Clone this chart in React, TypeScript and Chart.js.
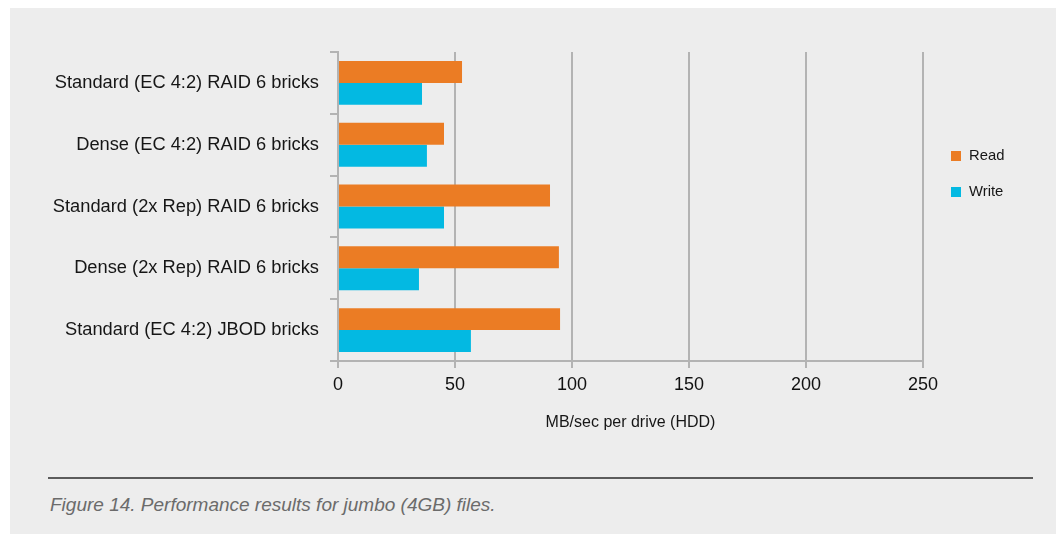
import React, { useEffect, useRef } from "react";
import { Chart, registerables } from "chart.js";

Chart.register(...registerables);

// Brick layouts compared in the test
const categories = [
  "Standard (EC 4:2) RAID 6 bricks",
  "Dense (EC 4:2) RAID 6 bricks",
  "Standard (2x Rep) RAID 6 bricks",
  "Dense (2x Rep) RAID 6 bricks",
  "Standard (EC 4:2) JBOD bricks",
];

// MB/sec per drive
const readValues = [53, 45.3, 90.6, 94.4, 94.9];
const writeValues = [35.9, 38, 45.3, 34.6, 56.8];

const seriesNames = ["Read", "Write"];
const seriesColors = ["#EB7C24", "#03B9E2"];

const xTickValues = [0, 50, 100, 150, 200, 250];
const xAxisTitle = "MB/sec per drive (HDD)";
const caption = "Figure 14. Performance results for jumbo (4GB) files.";

const FONT = '"Liberation Sans", Arial, sans-serif';
const GRID = "#b3b3b3";

// Small square-swatch legend to the right of the plot
const sideLegend = {
  id: "sideLegend",
  afterDraw(chart: any) {
    const { ctx, chartArea } = chart;
    const x = chartArea.right + 28;
    ctx.save();
    chart.data.datasets.forEach((ds: any, i: number) => {
      const cy = chartArea.top + 104 + i * 36;
      ctx.fillStyle = ds.backgroundColor;
      ctx.fillRect(x, cy - 5, 10, 10);
      ctx.fillStyle = "#161616";
      ctx.font = `14.8px ${FONT}`;
      ctx.textBaseline = "middle";
      ctx.textAlign = "left";
      ctx.fillText(ds.label, x + 18, cy);
    });
    ctx.restore();
  },
};

export default function App() {
  const canvasRef = useRef<HTMLCanvasElement | null>(null);

  useEffect(() => {
    if (!canvasRef.current) return;
    const chart = new Chart(canvasRef.current, {
      type: "bar",
      data: {
        labels: categories,
        datasets: [
          {
            label: seriesNames[0],
            data: readValues,
            backgroundColor: seriesColors[0],
            barPercentage: 1,
            categoryPercentage: 0.71,
          },
          {
            label: seriesNames[1],
            data: writeValues,
            backgroundColor: seriesColors[1],
            barPercentage: 1,
            categoryPercentage: 0.71,
          },
        ],
      },
      options: {
        indexAxis: "y",
        responsive: false,
        animation: false,
        devicePixelRatio: 1,
        layout: { padding: { left: 12, right: 136, top: 52, bottom: 73 } },
        plugins: {
          legend: { display: false },
          tooltip: { enabled: false },
        },
        scales: {
          x: {
            type: "linear",
            position: "bottom",
            min: 0,
            max: 250,
            afterBuildTicks: (scale: any) => {
              scale.ticks = xTickValues.map((v) => ({ value: v }));
            },
            afterFit: (scale: any) => {
              scale.height = 100;
            },
            ticks: {
              color: "#111",
              font: { family: FONT, size: 18 },
              padding: 6,
            },
            grid: {
              color: GRID,
              lineWidth: 2,
              tickLength: 7,
              drawOnChartArea: true,
            },
            border: { display: true, color: GRID, width: 2 },
            title: {
              display: true,
              text: xAxisTitle,
              color: "#161616",
              font: { family: FONT, size: 16 },
              padding: { top: 0, bottom: 29 },
            },
          },
          y: {
            type: "category",
            position: "left",
            offset: true,
            z: 1,
            afterFit: (scale: any) => {
              scale.width = 326;
            },
            ticks: {
              color: "#161616",
              font: { family: FONT, size: 18.3 },
              padding: 11,
            },
            grid: {
              offset: true,
              drawOnChartArea: false,
              drawTicks: true,
              tickLength: 8,
              color: GRID,
              lineWidth: 2,
            },
            border: { display: true, color: GRID, width: 2 },
          },
        },
      },
      plugins: [sideLegend],
    });
    return () => chart.destroy();
  }, []);

  return (
    <div
      style={{
        position: "fixed",
        left: 0,
        top: 0,
        width: 1059,
        height: 534,
        background: "#ffffff",
        overflow: "hidden",
      }}
    >
      <div
        style={{
          position: "absolute",
          left: 10,
          top: 8,
          width: 1046,
          height: 526,
          background: "#ededed",
        }}
      />
      <div
        style={{
          position: "absolute",
          left: 48,
          top: 477,
          width: 985,
          height: 2,
          background: "#5c5c5c",
        }}
      />
      <div
        style={{
          position: "absolute",
          left: 50,
          top: 493,
          fontFamily: FONT,
          fontStyle: "italic",
          fontSize: 19,
          lineHeight: "24px",
          color: "#6b6b6b",
          whiteSpace: "nowrap",
        }}
      >
        {caption}
      </div>
      <canvas
        ref={canvasRef}
        width={1059}
        height={534}
        style={{ position: "absolute", left: 0, top: 0, width: 1059, height: 534 }}
      />
    </div>
  );
}
